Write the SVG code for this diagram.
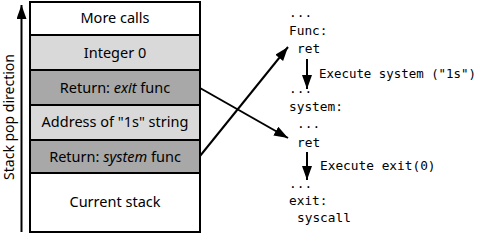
<svg xmlns="http://www.w3.org/2000/svg" width="481" height="234" viewBox="0 0 481 234">
<defs>
<marker id="ah" viewBox="0 0 14 10" refX="14" refY="5" markerWidth="14" markerHeight="10" markerUnits="userSpaceOnUse" orient="auto">
<path d="M0,0 L14,5 L0,10 Z" fill="#000"/>
</marker>
</defs>
<style>
.cell{stroke:#000;stroke-width:2}
.w{fill:#fff}
.l{fill:#d9d9d9}
.d{fill:#a8a8a8}
.t{font-family:"Noto Sans",sans-serif;font-size:14.5px;fill:#000;text-anchor:middle}
.r{font-size:14px}
.m{font-family:"DejaVu Sans Mono",monospace;font-size:12.8px;fill:#000}
.ln{stroke:#000;stroke-width:2;fill:none}
</style>
<rect width="481" height="234" fill="#fff"/>
<g id="stack-direction">
<line class="ln" x1="21.5" y1="232" x2="21.5" y2="5" marker-end="url(#ah)"/>
<text class="t r" transform="translate(14,117) rotate(-90)">Stack pop direction</text>
</g>
<g id="more-calls"><rect class="cell w" x="30" y="2" width="170" height="33"/><text class="t" x="115" y="23">More calls</text></g>
<g id="integer-0"><rect class="cell l" x="30" y="35" width="170" height="35"/><text class="t" x="115" y="58">Integer 0</text></g>
<g id="return-exit"><rect class="cell d" x="30" y="70" width="170" height="35"/><text class="t" x="115" y="93">Return: <tspan font-style="italic">exit</tspan> func</text></g>
<g id="address-1s"><rect class="cell l" x="30" y="105" width="170" height="35"/><text class="t" x="115" y="127">Address of "1s" string</text></g>
<g id="return-system"><rect class="cell d" x="30" y="140" width="170" height="33"/><text class="t" x="115" y="162">Return: <tspan font-style="italic">system</tspan> func</text></g>
<g id="current-stack"><rect class="cell w" x="30" y="173" width="170" height="59"/><text class="t" x="115" y="207">Current stack</text></g>
<g id="code">
<text class="m" x="289" y="17">...</text>
<text class="m" x="289" y="35">Func:</text>
<text class="m" x="297" y="53">ret</text>
<text class="m" x="319" y="78" textLength="157" lengthAdjust="spacingAndGlyphs">Execute system ("1s")</text>
<text class="m" x="289" y="93">...</text>
<text class="m" x="289" y="111">system:</text>
<text class="m" x="297" y="128">...</text>
<text class="m" x="297" y="147">ret</text>
<text class="m" x="320" y="170">Execute exit(0)</text>
<text class="m" x="289" y="188">...</text>
<text class="m" x="289" y="205">exit:</text>
<text class="m" x="297" y="222">syscall</text>
</g>
<g id="connectors">
<line class="ln" x1="200" y1="156" x2="288" y2="47" marker-end="url(#ah)"/>
<line class="ln" x1="200" y1="88" x2="288" y2="138" marker-end="url(#ah)"/>
<line class="ln" x1="307" y1="59" x2="307" y2="89" marker-end="url(#ah)"/>
<line class="ln" x1="307" y1="152" x2="307" y2="180" marker-end="url(#ah)"/>
</g>
</svg>
